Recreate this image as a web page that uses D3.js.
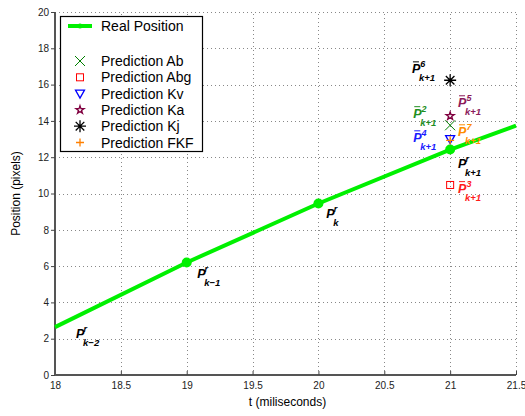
<!DOCTYPE html>
<html>
<head>
<meta charset="utf-8">
<script src="https://cdn.jsdelivr.net/npm/d3@7"></script>
<style>
  body { margin: 0; background: #fff; }
  text { font-family: "Liberation Sans", Arial, sans-serif; }
</style>
</head>
<body>
<div id="chart"></div>
<script>
// Real position samples (t in ms, position in pixels)
var realT = [18, 19, 20, 21, 21.5];
var realPos = [2.64, 6.2, 9.45, 12.42, 13.74];
var realMarked = [19, 20, 21]; // samples drawn with a dot

// Predictions for t = k+1 (21 ms)
var predNames = ["Ab", "Abg", "Kv", "Ka", "Kj", "FKF"];
var predValues = [13.76, 10.47, 13.0, 14.27, 16.24, 12.93];
var predT = 21;

var xTicks = [18, 18.5, 19, 19.5, 20, 20.5, 21, 21.5];
var yTicks = [0, 2, 4, 6, 8, 10, 12, 14, 16, 18, 20];

// Point annotations: [t, y, superscript, subscript, colour, bar]
var notes = [
  [18.16, 2.04, "r", "k\u22122", "#000", false],
  [19.08, 5.34, "r", "k\u22121", "#000", false],
  [20.06, 8.64, "r", "k", "#000", false],
  [21.06, 11.39, "r", "k+1", "#000", false],
  [20.71, 16.62, "6", "k+1", "#000", true],
  [21.06, 14.75, "5", "k+1", "#8b1a5a", true],
  [20.72, 14.15, "2", "k+1", "#1f8f1f", true],
  [20.72, 12.82, "4", "k+1", "#1a1aff", true],
  [21.06, 13.15, "7", "k+1", "#ff8c00", true],
  [21.06, 10.02, "3", "k+1", "#ff1a1a", true]
];

var W = 525, H = 416;
var margin = {left: 55, right: 9, top: 12, bottom: 41};

var svg = d3.select("#chart").append("svg")
  .attr("width", W).attr("height", H);

var x = d3.scaleLinear().domain([18, 21.5]).range([margin.left, W - margin.right]);
var y = d3.scaleLinear().domain([0, 20]).range([H - margin.bottom, margin.top]);

//grid
var grid = svg.append("g").attr("stroke", "#888").attr("stroke-width", 1)
  .attr("stroke-dasharray", "1,3");
grid.selectAll(".gx").data(xTicks.slice(1)).enter().append("line")
  .attr("x1", function(d) { return Math.round(x(d)) + 0.5; })
  .attr("x2", function(d) { return Math.round(x(d)) + 0.5; })
  .attr("y1", y(0)).attr("y2", y(20));
grid.selectAll(".gy").data(yTicks.slice(1)).enter().append("line")
  .attr("y1", function(d) { return Math.round(y(d)) + 0.5; })
  .attr("y2", function(d) { return Math.round(y(d)) + 0.5; })
  .attr("x1", x(18)).attr("x2", x(21.5));

//axes
var xAxis = svg.append("g").attr("transform", "translate(0," + y(0) + ")")
  .call(d3.axisBottom(x).tickValues(xTicks).tickSize(-4).tickPadding(7)
    .tickFormat(d3.format("")));
var yAxis = svg.append("g").attr("transform", "translate(" + x(18) + ",0)")
  .call(d3.axisLeft(y).tickValues(yTicks).tickSize(4).tickPadding(2));
[xAxis, yAxis].forEach(function(a) {
  a.select(".domain").attr("stroke", "#555").attr("stroke-width", 2);
  a.selectAll(".tick line").attr("stroke", "#444");
  a.selectAll("text").attr("font-size", 10).attr("fill", "#222")
    .style("font-family", "Liberation Sans, Arial, sans-serif");
});
xAxis.select(".domain").attr("d", "M" + x(18) + ",0H" + x(21.5));
yAxis.select(".domain").attr("d", "M0," + y(0) + "V" + y(20));

//real position line
var line = d3.line().x(function(d, i) { return x(realT[i]); })
  .y(function(d) { return y(d); });
svg.append("path").datum(realPos).attr("d", line)
  .attr("fill", "none").attr("stroke", "#00f000").attr("stroke-width", 4);
svg.selectAll(".rdot").data(realMarked).enter().append("circle")
  .attr("cx", function(d) { return x(d); })
  .attr("cy", function(d) { return y(realPos[realT.indexOf(d)]); })
  .attr("r", 5).attr("fill", "#00f000");

//markers
var predColours = ["#008000", "#ff0000", "#0000ff", "#800040", "#000", "#ff8000"];
function marker(g, name, colour) {
  if (name == "Ab") {
    g.append("path").attr("d", "M-5,-5L5,5M-5,5L5,-5").attr("stroke", colour).attr("fill", "none");
  } else if (name == "Abg") {
    g.append("rect").attr("x", -3.5).attr("y", -3.5).attr("width", 7).attr("height", 7)
      .attr("stroke", colour).attr("fill", "none");
  } else if (name == "Kv") {
    g.append("path").attr("d", "M-4.5,-3.5L4.5,-3.5L0,4.5Z").attr("stroke", colour).attr("fill", "none").attr("stroke-width", 1.3);
  } else if (name == "Ka") {
    g.append("path").attr("d", d3.symbol().type(d3.symbolStar).size(20)())
      .attr("stroke", colour).attr("fill", "none").attr("stroke-width", 1.3);
  } else if (name == "Kj") {
    g.append("path").attr("d", "M-6,0L6,0M0,-6L0,6M-4.3,-4.3L4.3,4.3M-4.3,4.3L4.3,-4.3")
      .attr("stroke", colour).attr("stroke-width", 1.3);
  } else {
    g.append("path").attr("d", "M-4,0L4,0M0,-4L0,4").attr("stroke", colour).attr("stroke-width", 1.3);
  }
}
predNames.forEach(function(n, i) {
  var g = svg.append("g").attr("transform", "translate(" + x(predT) + "," + y(predValues[i]) + ")");
  marker(g, n, predColours[i]);
});

//annotations
notes.forEach(function(n) {
  var px = x(n[0]), py = y(n[1]);
  var t = svg.append("text").attr("x", px).attr("y", py)
    .attr("fill", n[4]).attr("font-weight", "bold").attr("font-style", "italic");
  t.append("tspan").attr("font-size", 12.5).text("P");
  t.append("tspan").attr("font-size", 9).attr("dy", -6).attr("dx", n[2] == "r" ? -1 : 0).text(n[2]);
  t.append("tspan").attr("font-size", 9.5).attr("x", px + 7).attr("y", py + 8).text(n[3]);
  if (n[5]) {
    svg.append("line").attr("x1", px + 1).attr("x2", px + 7)
      .attr("y1", py - 11.5).attr("y2", py - 11.5)
      .attr("stroke", n[4]).attr("stroke-width", 1);
  }
});

//legend
var lg = svg.append("g");
lg.append("rect").attr("x", 60.5).attr("y", 16.5).attr("width", 142).attr("height", 135)
  .attr("fill", "#fff").attr("stroke", "#000").attr("stroke-width", 1.2);
lg.append("line").attr("x1", 68).attr("x2", 92).attr("y1", 26).attr("y2", 26)
  .attr("stroke", "#00f000").attr("stroke-width", 4);
lg.append("circle").attr("cx", 80).attr("cy", 26).attr("r", 2.5).attr("fill", "#00f000");
lg.append("text").attr("x", 101).attr("y", 31).attr("font-size", 14).text("Real Position");
predNames.forEach(function(n, i) {
  var ly = 61 + i * 16.3;
  var g = lg.append("g").attr("transform", "translate(80," + ly + ")");
  marker(g, n, predColours[i]);
  lg.append("text").attr("x", 101).attr("y", ly + 5).attr("font-size", 14).text("Prediction " + n);
});

//axis titles
svg.append("text").attr("x", (x(18) + x(21.5)) / 2 + 2).attr("y", 406)
  .attr("text-anchor", "middle").attr("font-size", 12).text("t (miliseconds)");
svg.append("text").attr("transform", "translate(20," + y(10) + ") rotate(-90)")
  .attr("text-anchor", "middle").attr("font-size", 12).text("Position (pixels)");
</script>
</body>
</html>
